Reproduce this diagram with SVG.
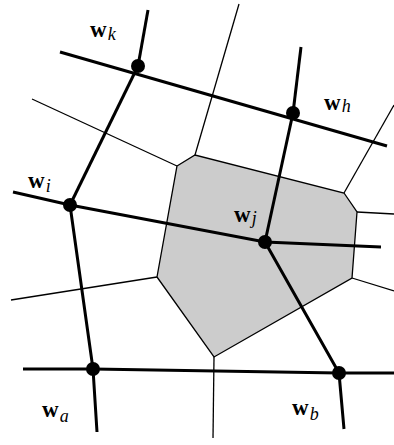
<svg xmlns="http://www.w3.org/2000/svg" width="394" height="445" viewBox="0 0 394 445">
<style>
.thin{stroke:#000;stroke-width:1.3;fill:none}
.thick{stroke:#000;stroke-width:3;fill:none;stroke-linecap:butt}
.cell{fill:#cccccc;stroke:#000;stroke-width:1.3;stroke-linejoin:miter}
.node{fill:#000}
.lb{font-family:"Liberation Serif",serif;font-size:23px;font-weight:bold}
.sub{font-family:"Liberation Serif",serif;font-size:18px;font-style:italic;font-weight:normal}
</style>
<rect width="394" height="445" fill="#fff"/>
<g id="cell-j">
<polygon class="cell" points="177,166 195,155 344,193 357,212 352,278 214,357 157,277"/>
</g>
<g id="connectors">
<line class="thin" x1="195" y1="155" x2="239" y2="4"/>
<line class="thin" x1="177" y1="166" x2="32" y2="99"/>
<line class="thin" x1="344" y1="193" x2="394" y2="105"/>
<line class="thin" x1="357" y1="212" x2="394" y2="214"/>
<line class="thin" x1="352" y1="278" x2="394" y2="291"/>
<line class="thin" x1="214" y1="357" x2="213" y2="438"/>
<line class="thin" x1="157" y1="277" x2="11" y2="300"/>
<line class="thick" x1="60" y1="52" x2="387" y2="146"/>
<line class="thick" x1="138" y1="66" x2="148" y2="10"/>
<line class="thick" x1="138" y1="66" x2="70" y2="205"/>
<polyline class="thick" points="70,205 93,369 97,432"/>
<line class="thick" x1="293" y1="113" x2="301" y2="47"/>
<line class="thick" x1="293" y1="113" x2="265" y2="242"/>
<polyline class="thick" points="13,192 70,205 265,242 381,247"/>
<polyline class="thick" points="265,242 339,373 344,429"/>
<polyline class="thick" points="23,369 93,369 339,373 394,373"/>
</g>
<g id="node-k"><circle class="node" cx="138" cy="66" r="7"/><text class="lb" x="90" y="37">w<tspan class="sub" dx="1" dy="3">k</tspan></text></g>
<g id="node-h"><circle class="node" cx="293" cy="113" r="7"/><text class="lb" x="324" y="110">w<tspan class="sub" dx="1" dy="2">h</tspan></text></g>
<g id="node-i"><circle class="node" cx="70" cy="205" r="7"/><text class="lb" x="28" y="188">w<tspan class="sub" dx="1" dy="4">i</tspan></text></g>
<g id="node-j"><circle class="node" cx="265" cy="242" r="7"/><text class="lb" x="234" y="222">w<tspan class="sub" dx="1" dy="2">j</tspan></text></g>
<g id="node-a"><circle class="node" cx="93" cy="369" r="7"/><text class="lb" x="42" y="417">w<tspan class="sub" dx="1" dy="5">a</tspan></text></g>
<g id="node-b"><circle class="node" cx="339" cy="373" r="7"/><text class="lb" x="292" y="415">w<tspan class="sub" dx="1" dy="5">b</tspan></text></g>
</svg>
